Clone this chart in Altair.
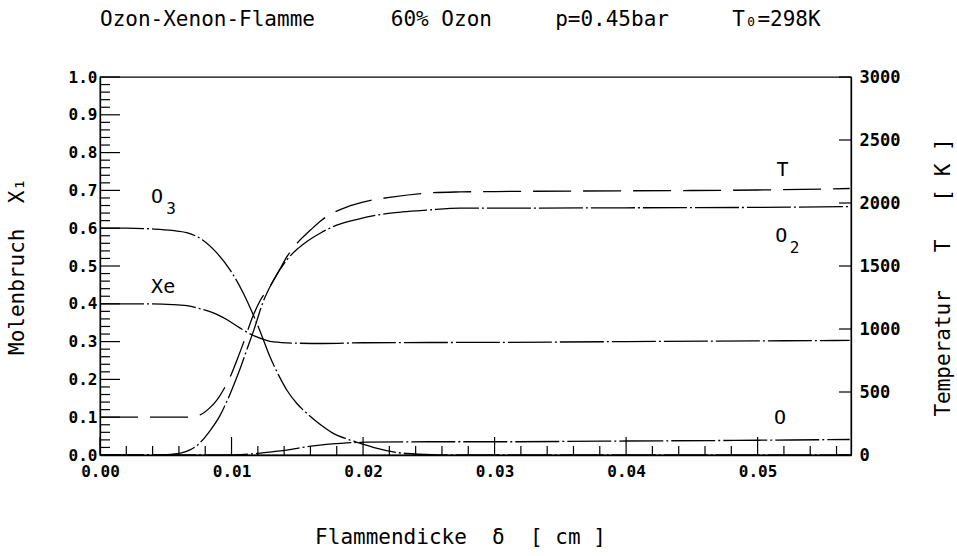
import altair as alt
import pandas as pd

FONT = "DejaVu Sans Mono"
INK = "black"

# ---- data ----
O3_X = [0.0, 0.002, 0.004, 0.0055, 0.0066, 0.0078, 0.0089, 0.0099, 0.0109, 0.0116, 0.0122,
        0.0129, 0.0136, 0.0142, 0.0150, 0.0157, 0.0167, 0.0177, 0.0188, 0.0198, 0.0210,
        0.0223, 0.0243, 0.026, 0.057]
O3_Y = [0.600, 0.600, 0.598, 0.594, 0.588, 0.569, 0.534, 0.489, 0.428, 0.375, 0.325,
        0.262, 0.210, 0.172, 0.135, 0.111, 0.082, 0.058, 0.042, 0.031, 0.018,
        0.008, 0.002, 0.0, 0.0]

XE_X = [0.0, 0.003, 0.0055, 0.0066, 0.0080, 0.0090, 0.0097, 0.0106, 0.0116, 0.0125, 0.0132,
        0.0147, 0.017, 0.020, 0.030, 0.040, 0.050, 0.057]
XE_Y = [0.400, 0.400, 0.398, 0.395, 0.383, 0.370, 0.357, 0.337, 0.317, 0.305, 0.299,
        0.296, 0.295, 0.297, 0.298, 0.300, 0.302, 0.303]

O2_X = [0.0, 0.004, 0.005, 0.0061, 0.0068, 0.0074, 0.0084, 0.0091, 0.0097, 0.0102, 0.0107,
        0.0112, 0.0117, 0.0124, 0.0132, 0.0142, 0.0150, 0.0157, 0.0168, 0.0180, 0.0195,
        0.0211, 0.0230, 0.0249, 0.0274, 0.030, 0.040, 0.050, 0.057]
O2_Y = [0.0, 0.0, 0.001, 0.005, 0.013, 0.026, 0.066, 0.103, 0.146, 0.188, 0.233,
        0.282, 0.331, 0.405, 0.463, 0.516, 0.545, 0.564, 0.588, 0.608, 0.623,
        0.635, 0.643, 0.648, 0.653, 0.653, 0.654, 0.655, 0.657]

O_X = [0.0, 0.010, 0.0107, 0.0122, 0.0132, 0.0142, 0.0152, 0.0162, 0.0172, 0.0183, 0.0193,
       0.0203, 0.025, 0.030, 0.040, 0.050, 0.057]
O_Y = [0.0, 0.0, 0.001, 0.005, 0.009, 0.013, 0.019, 0.024, 0.028, 0.031, 0.033,
       0.034, 0.035, 0.035, 0.037, 0.039, 0.041]

T_X = [0.0, 0.003, 0.0066, 0.0076, 0.0083, 0.0089, 0.0094, 0.0099, 0.0104, 0.0109, 0.0116,
       0.0122, 0.0129, 0.0136, 0.0142, 0.0150, 0.0160, 0.0168, 0.0177, 0.0188, 0.0200,
       0.0223, 0.0249, 0.0274, 0.030, 0.040, 0.050, 0.057]
T_K = [300, 300, 300, 318, 370, 438, 520, 621, 750, 888, 1095,
       1230, 1335, 1460, 1572, 1683, 1785, 1860, 1920, 1970, 2007,
       2049, 2079, 2088, 2091, 2097, 2103, 2115]

# curve labels (main glyphs and their subscripts)
LABEL_TEXT = ["O", "Xe", "T", "O", "O"]
LABEL_X = [0.00434, 0.0048, 0.0519, 0.0518, 0.0517]
LABEL_Y = [0.683, 0.445, 0.754, 0.579, 0.098]
SUB_TEXT = ["3", "2"]
SUB_X = [0.00540, 0.0528]
SUB_Y = [0.651, 0.548]

X_LABELS = [0.0, 0.01, 0.02, 0.03, 0.04, 0.05]
Y_LABELS = [0.0, 0.1, 0.2, 0.3, 0.4, 0.5, 0.6, 0.7, 0.8, 0.9, 1.0]
T_LABELS = [0, 500, 1000, 1500, 2000, 2500, 3000]
X_MINOR = [i / 500 for i in range(1, 29) if i % 5]
Y_MINOR = [i / 50 for i in range(1, 50) if i % 5]

NB = "\u00a0"
TITLE = ("Ozon-Xenon-Flamme" + NB * 6 + "60% Ozon" + NB * 5 + "p=0.45bar" + NB * 5 + "T₀=298K")
X_TITLE = "Flammendicke" + NB * 2 + "δ" + NB * 2 + "[" + NB + "cm" + NB + "]"
Y_TITLE = "Molenbruch" + NB * 2 + "X₁"
T_TITLE = "Temperatur" + NB * 3 + "T" + NB * 3 + "[" + NB + "K" + NB + "]"

# ---- tables ----
rows = []
for name, xs, ys in [("O3", O3_X, O3_Y), ("Xe", XE_X, XE_Y), ("O2", O2_X, O2_Y), ("O", O_X, O_Y)]:
    for a, b in zip(xs, ys):
        rows.append({"series": name, "x": a, "y": b})
species = pd.DataFrame(rows)
temp = pd.DataFrame({"x": T_X, "T": T_K})
labels = pd.DataFrame({"x": LABEL_X, "y": LABEL_Y, "label": LABEL_TEXT})
subs = pd.DataFrame({"x": SUB_X, "y": SUB_Y, "label": SUB_TEXT})

W, H = 751, 378
xscale = alt.Scale(domain=[0, 0.0571], nice=False, zero=False)
yscale = alt.Scale(domain=[0, 1], nice=False)
tscale = alt.Scale(domain=[0, 3000], nice=False)

common_axis = dict(
    ticks=False, grid=False, labelFont=FONT, labelColor=INK, labelFontWeight="bold",
    domainColor=INK, domainWidth=1.3, titleFont=FONT, titleFontSize=21,
    titleFontWeight="normal", titleColor=INK, labelOverlap=False, labelFlush=False,
)

x_axis = alt.Axis(values=X_LABELS, format=".2f", labelFontSize=16, labelPadding=8,
                  title=X_TITLE, titleX=360, titleY=82, titleBaseline="middle",
                  titleAlign="center", **common_axis)
y_axis = alt.Axis(values=Y_LABELS, format=".1f", labelFontSize=16, labelPadding=3,
                  title=Y_TITLE, titleX=-83, titleY=189, titleAngle=270,
                  titleBaseline="middle", titleAlign="center", **common_axis)
t_axis = alt.Axis(orient="right", values=T_LABELS, format="d", labelFontSize=17,
                  labelPadding=8, title=T_TITLE, titleX=92, titleY=200, titleAngle=270,
                  titleBaseline="middle", titleAlign="center", **common_axis)

X_ENC = alt.X("x:Q", scale=xscale, axis=x_axis)

curves = alt.Chart(species).mark_line(
    color=INK, strokeWidth=1.3, interpolate="monotone", strokeDash=[44, 3, 2, 3]
).encode(
    x=X_ENC,
    y=alt.Y("y:Q", scale=yscale, axis=y_axis),
    detail="series:N",
)

t_line = alt.Chart(temp).mark_line(
    color=INK, strokeWidth=1.3, interpolate="monotone", strokeDash=[38, 12]
).encode(
    x=X_ENC,
    y=alt.Y("T:Q", scale=tscale, axis=t_axis),
)


def xrule(values, length):
    return alt.Chart(pd.DataFrame({"x": values})).mark_rule(color=INK, strokeWidth=1.2).encode(
        x=X_ENC,
        y=alt.value(H), y2=alt.value(H - length),
    )


def yrule(values, length):
    return alt.Chart(pd.DataFrame({"y": values})).mark_rule(color=INK, strokeWidth=1.2).encode(
        y=alt.Y("y:Q", scale=yscale, axis=None),
        x=alt.value(0), x2=alt.value(length),
    )


t_ticks = alt.Chart(pd.DataFrame({"T": T_LABELS})).mark_rule(color=INK, strokeWidth=1.2).encode(
    y=alt.Y("T:Q", scale=tscale, axis=None),
    x=alt.value(W), x2=alt.value(W - 12),
)


def text_layer(df, size):
    return alt.Chart(df).mark_text(
        font=FONT, fontSize=size, color=INK, align="center", baseline="middle"
    ).encode(
        x=X_ENC,
        y=alt.Y("y:Q", scale=yscale, axis=None),
        text="label:N",
    )


title_mark = alt.Chart(pd.DataFrame({"t": [TITLE]})).mark_text(
    font=FONT, fontSize=21, color=INK, align="left", baseline="alphabetic"
).encode(
    text="t:N", x=alt.value(0), y=alt.value(-51),
)

chart = alt.layer(
    curves, t_line,
    xrule(X_LABELS, 18), xrule(X_MINOR, 9),
    yrule(Y_LABELS, 20), yrule(Y_MINOR, 10),
    t_ticks, text_layer(labels, 20), text_layer(subs, 16), title_mark,
).resolve_scale(y="independent").properties(
    width=W, height=H,
    autosize=alt.AutoSizeParams(type="none"),
    padding={"left": 100, "top": 77, "right": 106, "bottom": 101},
    background="white",
).configure_view(stroke=INK, strokeWidth=1.3)

chart.save("out.html", embed_options={"renderer": "svg", "actions": False})
